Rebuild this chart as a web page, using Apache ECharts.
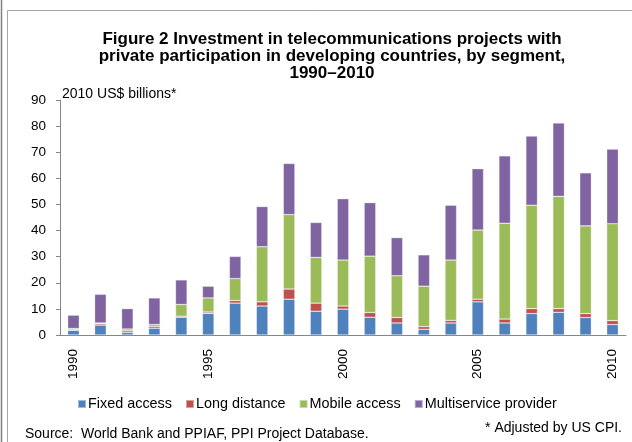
<!DOCTYPE html>
<html>
<head>
<meta charset="utf-8">
<script src="https://cdn.jsdelivr.net/npm/echarts@6/dist/echarts.min.js"></script>
<style>
  html, body { margin: 0; padding: 0; background: #fff; }
  #chart { width: 632px; height: 442px; }
</style>
</head>
<body>
<div id="chart"></div>
<script>
// values, 2010 US$ billions
const years = ['1990', '1991', '1992', '1993', '1994', '1995', '1996', '1997', '1998', '1999', '2000',
  '2001', '2002', '2003', '2004', '2005', '2006', '2007', '2008', '2009', '2010']
const fixedAccess = [1.8, 3.8, 1.0, 2.6, 6.8, 8.3, 12.2, 11.1, 13.7, 9.1, 9.9,
  6.8, 4.6, 2.2, 4.6, 12.7, 4.6, 8.2, 8.7, 6.7, 4.0]
const longDistance = [0.2, 0.5, 0.6, 0.7, 0.4, 0.5, 1.0, 1.6, 3.9, 3.1, 1.2,
  1.8, 2.1, 1.0, 1.0, 1.0, 1.5, 1.9, 1.4, 1.5, 1.5]
const mobileAccess = [0.5, 0.3, 0.7, 0.7, 4.5, 5.4, 8.4, 21.1, 28.5, 17.5, 17.6,
  21.6, 16.0, 15.5, 23.1, 26.5, 36.7, 39.6, 43.0, 33.6, 37.1]
const multiservice = [5.1, 11.0, 7.8, 10.2, 9.4, 4.5, 8.5, 15.4, 19.6, 13.4, 23.5,
  20.5, 14.6, 12.0, 21.0, 23.5, 25.8, 26.5, 28.1, 20.3, 28.6]
const yTicks = [0, 10, 20, 30, 40, 50, 60, 70, 80, 90]

const chart = echarts.init(document.getElementById('chart'))
const font = 'Liberation Sans, Arial, sans-serif'

function bar(name, data, color) {
  return {
    name: name,
    type: 'bar',
    stack: 'total',
    barWidth: '43%',
    data: data,
    itemStyle: { color: color, borderColor: 'rgba(255,255,255,0.45)', borderWidth: 0.6 }
  }
}

let option = {
  backgroundColor: '#fff',
  animation: false,
  textStyle: { fontFamily: font },
  title: {
    text: 'Figure 2 Investment in telecommunications projects with\nprivate participation in developing countries, by segment,\n1990\u20132010',
    left: 327,
    top: 26,
    textAlign: 'center',
    textStyle: { fontSize: 17, fontWeight: 'bold', color: '#000', lineHeight: 17, fontFamily: font }
  },
  grid: { left: 60, right: 6, top: 100, bottom: 107 },
  legend: {
    top: 397,
    left: 77,
    padding: 0,
    itemWidth: 8,
    itemHeight: 8,
    itemGap: 13,
    icon: 'rect',
    textStyle: { fontSize: 14.4, color: '#000', padding: [0, 0, 0, -3] },
    data: ['Fixed access', 'Long distance', 'Mobile access', 'Multiservice provider']
  },
  xAxis: {
    type: 'category',
    data: years,
    axisLine: { lineStyle: { color: '#868686' } },
    axisTick: { show: false },
    axisLabel: {
      rotate: 90,
      interval: 4,
      margin: 14,
      fontSize: 13.5,
      color: '#000'
    }
  },
  yAxis: {
    type: 'value',
    min: yTicks[0],
    max: yTicks[yTicks.length - 1],
    interval: 10,
    splitLine: { show: false },
    axisLine: { show: true, lineStyle: { color: '#868686' } },
    axisTick: { show: true, length: 4, lineStyle: { color: '#868686' } },
    axisLabel: { fontSize: 13.5, color: '#000', margin: 14 }
  },
  series: [
    bar('Fixed access', fixedAccess, '#4F81BD'),
    bar('Long distance', longDistance, '#C0504D'),
    bar('Mobile access', mobileAccess, '#9BBB59'),
    bar('Multiservice provider', multiservice, '#8064A2')
  ],
  graphic: [
    { type: 'line', shape: { x1: 1.5, y1: 0, x2: 1.5, y2: 442 }, style: { stroke: '#808080', lineWidth: 1.5 } },
    { type: 'polyline', shape: { points: [[7.5, 442], [7.5, 10.5], [632, 10.5]] }, style: { stroke: '#a6a6a6', lineWidth: 1, fill: null } },
    { type: 'text', left: 62, top: 87, style: { text: '2010 US$ billions*', fontSize: 14, fill: '#000', fontFamily: font } },
    { type: 'text', left: 25, top: 427, style: { text: 'Source:  World Bank and PPIAF, PPI Project Database.', fontSize: 14, fill: '#000', fontFamily: font } },
    { type: 'text', right: 10, top: 421, style: { text: '* Adjusted by US CPI.', fontSize: 14, fill: '#000', fontFamily: font } }
  ]
}
chart.setOption(option)
</script>
</body>
</html>
